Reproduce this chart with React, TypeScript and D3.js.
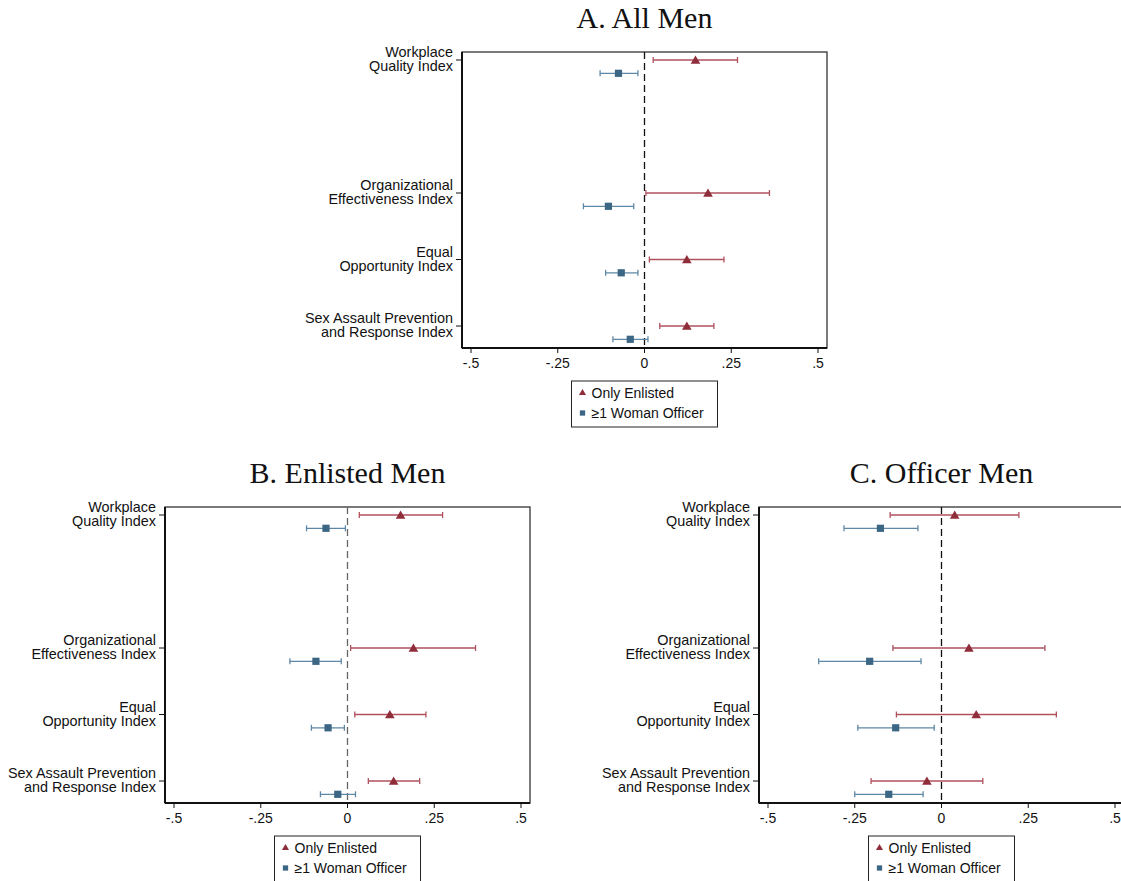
import React from "react";
import * as d3 from "d3";

const categories = [
  ["Workplace", "Quality Index"],
  ["Organizational", "Effectiveness Index"],
  ["Equal", "Opportunity Index"],
  ["Sex Assault Prevention", "and Response Index"],
];
const catPositions = [1, 3, 4, 5];
const xTicks = [-0.5, -0.25, 0, 0.25, 0.5];
const xTickLabels = ["-.5", "-.25", "0", ".25", ".5"];
const seriesNames = ["Only Enlisted", "\u22651 Woman Officer"];

// Panel A: All Men
const allEnlistedCoef = [0.147, 0.183, 0.122, 0.122];
const allEnlistedLo = [0.025, 0.004, 0.014, 0.044];
const allEnlistedHi = [0.268, 0.36, 0.229, 0.2];
const allOfficerCoef = [-0.075, -0.104, -0.067, -0.041];
const allOfficerLo = [-0.128, -0.176, -0.112, -0.091];
const allOfficerHi = [-0.019, -0.031, -0.019, 0.01];

// Panel B: Enlisted Men
const enlEnlistedCoef = [0.153, 0.19, 0.122, 0.133];
const enlEnlistedLo = [0.034, 0.009, 0.021, 0.06];
const enlEnlistedHi = [0.274, 0.369, 0.226, 0.208];
const enlOfficerCoef = [-0.062, -0.091, -0.056, -0.028];
const enlOfficerLo = [-0.118, -0.166, -0.104, -0.078];
const enlOfficerHi = [-0.006, -0.018, -0.009, 0.023];

// Panel C: Officer Men
const offEnlistedCoef = [0.038, 0.079, 0.1, -0.042];
const offEnlistedLo = [-0.148, -0.14, -0.13, -0.203];
const offEnlistedHi = [0.223, 0.298, 0.331, 0.119];
const offOfficerCoef = [-0.176, -0.207, -0.132, -0.152];
const offOfficerLo = [-0.281, -0.354, -0.241, -0.25];
const offOfficerHi = [-0.068, -0.059, -0.021, -0.053];

const RED = "#8f2d3b";
const RED_LINE = "#b0525e";
const BLUE = "#3b6684";
const BLUE_LINE = "#5f88a6";
const SANS = "'Liberation Sans', Arial, Helvetica, sans-serif";
const SERIF = "'Liberation Serif', 'Times New Roman', serif";

type Series = { coef: number[]; lo: number[]; hi: number[] };

function Panel(props: {
  left: number;
  top: number;
  title: string;
  enlisted: Series;
  officer: Series;
  zeroColor: string;
}) {
  const { left, top, title, enlisted, officer, zeroColor } = props;
  const W = 365;
  const H = 296;
  const right = left + W;
  const bottom = top + H;
  const x = d3.scaleLinear().domain([-0.5, 0.5]).range([left + 9, right - 9]);
  const unit = 66.5;
  const y = d3
    .scaleLinear()
    .domain([1 - 8 / unit, 1 + (H - 8) / unit])
    .range([top, bottom]);
  const offset = 0.2;
  const tri = d3.symbol().type(d3.symbolTriangle).size(40)();
  const sq = d3.symbol().type(d3.symbolSquare).size(52)();
  const cap = 3;

  const drawSeries = (s: Series, dy: number, color: string, line: string, shape: string | null) =>
    catPositions.map((p, i) => {
      const yy = y(p + dy);
      return (
        <g key={i}>
          <line x1={x(s.lo[i])} x2={x(s.hi[i])} y1={yy} y2={yy} stroke={line} strokeWidth={1.3} />
          <line x1={x(s.lo[i])} x2={x(s.lo[i])} y1={yy - cap} y2={yy + cap} stroke={line} strokeWidth={1.3} />
          <line x1={x(s.hi[i])} x2={x(s.hi[i])} y1={yy - cap} y2={yy + cap} stroke={line} strokeWidth={1.3} />
          <path d={shape || ""} transform={`translate(${x(s.coef[i])},${yy + (shape === tri ? 1 : 0)})`} fill={color} />
        </g>
      );
    });

  const legW = 146;
  const legH = 46;
  const legX = (left + right) / 2 - legW / 2;
  const legY = bottom + 33;

  return (
    <g>
      <text x={(left + right) / 2} y={top - 24} textAnchor="middle" fontFamily={SERIF} fontSize={30} fill="#111">
        {title}
      </text>
      <rect x={left} y={top} width={W} height={H} fill="white" stroke="#333" strokeWidth={1.3} />
      <line x1={left} x2={left} y1={top} y2={bottom} stroke="#111" strokeWidth={2} />
      <line x1={left} x2={right} y1={bottom} y2={bottom} stroke="#111" strokeWidth={2} />
      <line x1={x(0)} x2={x(0)} y1={top} y2={bottom} stroke={zeroColor} strokeWidth={1.3} strokeDasharray="7,4" />
      {xTicks.map((t, i) => (
        <g key={i}>
          <line x1={x(t)} x2={x(t)} y1={bottom} y2={bottom + 5} stroke="#111" strokeWidth={1} />
          <text x={x(t)} y={bottom + 20} textAnchor="middle" fontFamily={SANS} fontSize={14} fill="#111">
            {xTickLabels[i]}
          </text>
        </g>
      ))}
      {catPositions.map((p, i) => (
        <g key={i}>
          <line x1={left - 6} x2={left} y1={y(p)} y2={y(p)} stroke="#111" strokeWidth={1} />
          <text x={left - 9} y={y(p) - 3} textAnchor="end" fontFamily={SANS} fontSize={14.4} fill="#111">
            {categories[i][0]}
          </text>
          <text x={left - 9} y={y(p) + 11} textAnchor="end" fontFamily={SANS} fontSize={14.4} fill="#111">
            {categories[i][1]}
          </text>
        </g>
      ))}
      {drawSeries(officer, offset, BLUE, BLUE_LINE, sq)}
      {drawSeries(enlisted, 0, RED, RED_LINE, tri)}
      <rect x={legX} y={legY} width={legW} height={legH} fill="white" stroke="#222" strokeWidth={1} />
      <path d={d3.symbol().type(d3.symbolTriangle).size(22)() || ""} transform={`translate(${legX + 11},${legY + 12})`} fill={RED} />
      <text x={legX + 20} y={legY + 17} fontFamily={SANS} fontSize={14} fill="#111">
        {seriesNames[0]}
      </text>
      <path d={d3.symbol().type(d3.symbolSquare).size(28)() || ""} transform={`translate(${legX + 11},${legY + 32})`} fill={BLUE} />
      <text x={legX + 20} y={legY + 37} fontFamily={SANS} fontSize={14} fill="#111">
        {seriesNames[1]}
      </text>
    </g>
  );
}

export default function App() {
  return (
    <svg
      width={1121}
      height={881}
      style={{ position: "absolute", left: 0, top: 0, background: "white" }}
    >
      <rect x={0} y={0} width={1121} height={881} fill="white" />
      <Panel
        left={462}
        top={52}
        title="A. All Men"
        enlisted={{ coef: allEnlistedCoef, lo: allEnlistedLo, hi: allEnlistedHi }}
        officer={{ coef: allOfficerCoef, lo: allOfficerLo, hi: allOfficerHi }}
        zeroColor="#111"
      />
      <Panel
        left={165}
        top={507}
        title="B. Enlisted Men"
        enlisted={{ coef: enlEnlistedCoef, lo: enlEnlistedLo, hi: enlEnlistedHi }}
        officer={{ coef: enlOfficerCoef, lo: enlOfficerLo, hi: enlOfficerHi }}
        zeroColor="#666"
      />
      <Panel
        left={759}
        top={507}
        title="C. Officer Men"
        enlisted={{ coef: offEnlistedCoef, lo: offEnlistedLo, hi: offEnlistedHi }}
        officer={{ coef: offOfficerCoef, lo: offOfficerLo, hi: offOfficerHi }}
        zeroColor="#111"
      />
    </svg>
  );
}
